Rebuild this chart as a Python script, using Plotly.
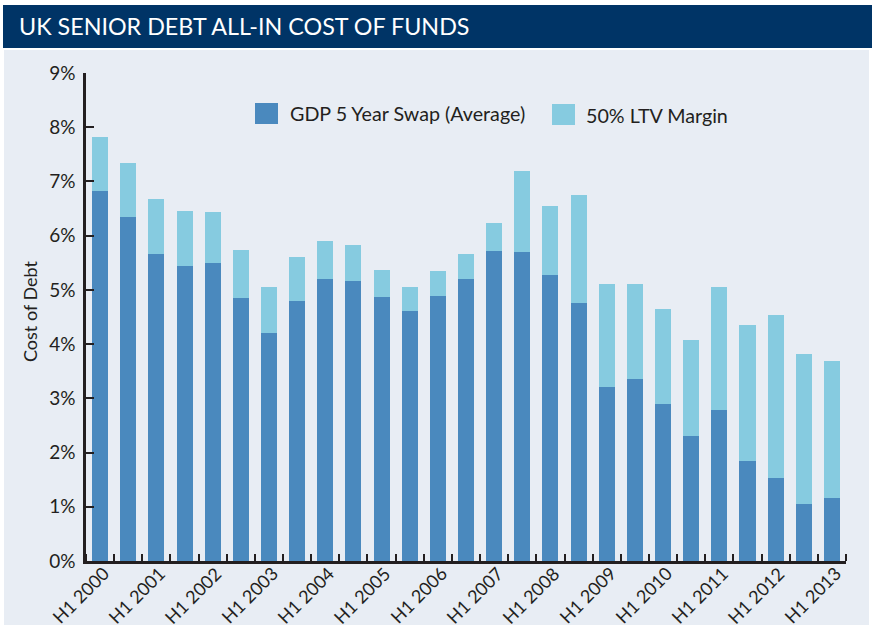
import plotly.graph_objects as go

# ---- data ----
periods = []
for yr in range(2000, 2013):
    periods += [f"H1 {yr}", f"H2 {yr}"]
periods += ["H1 2013"]

swap_avg = [6.82, 6.34, 5.66, 5.44, 5.50, 4.85, 4.21, 4.80, 5.20, 5.17,
            4.87, 4.61, 4.89, 5.20, 5.72, 5.70, 5.28, 4.76, 3.21, 3.36,
            2.90, 2.31, 2.79, 1.85, 1.54, 1.06, 1.17]
ltv_margin = [1.00, 1.00, 1.02, 1.02, 0.94, 0.89, 0.85, 0.81, 0.70, 0.66,
              0.50, 0.45, 0.46, 0.46, 0.51, 1.49, 1.27, 1.99, 1.90, 1.75,
              1.75, 1.77, 2.27, 2.51, 3.00, 2.76, 2.52]
y_ticks = list(range(0, 10))
y_tick_labels = [f"{v}%" for v in y_ticks]

series_names = ["GDP 5 Year Swap (Average)", "50% LTV Margin"]
title_text = "UK SENIOR DEBT ALL-IN COST OF FUNDS"
y_title = "Cost of Debt"

x_pos = list(range(len(periods)))
label_pos = [i for i, p in enumerate(periods) if p.startswith("H1")]
label_text = [periods[i] for i in label_pos]

# ---- style ----
W, H = 872, 629
L, R, T, B = 86, 26, 73, 68
DARK = "#4a89be"
LIGHT = "#86cbe0"
BG = "#e8edf4"
NAVY = "#003466"
INK = "#231f20"
FONT = "Lato"
X_RANGE = [-0.5, len(periods) - 0.5]

def px(x):
    return (x - L) / (W - L - R)

def py(y):
    return (H - B - y) / (H - T - B)

def x_to_paper(v):
    return (v - X_RANGE[0]) / (X_RANGE[1] - X_RANGE[0])

fig = go.Figure()
fig.add_trace(go.Bar(x=x_pos, y=swap_avg, name=series_names[0], hovertext=periods,
                     marker=dict(color=DARK, line=dict(width=0)), showlegend=False))
fig.add_trace(go.Bar(x=x_pos, y=ltv_margin, name=series_names[1], hovertext=periods,
                     marker=dict(color=LIGHT, line=dict(width=0)), showlegend=False))

shapes = [
    dict(type="rect", xref="paper", yref="paper", layer="below",
         x0=px(4), x1=px(869), y0=py(625), y1=py(50),
         fillcolor=BG, line=dict(width=0)),
    dict(type="rect", xref="paper", yref="paper", layer="below",
         x0=px(3), x1=px(873), y0=py(48), y1=py(5),
         fillcolor=NAVY, line=dict(width=0)),
    dict(type="rect", xref="paper", yref="paper",
         x0=px(255), x1=px(278), y0=py(124), y1=py(103),
         fillcolor=DARK, line=dict(width=0)),
    dict(type="rect", xref="paper", yref="paper",
         x0=px(552), x1=px(575), y0=py(125), y1=py(104),
         fillcolor=LIGHT, line=dict(width=0)),
]

annotations = [
    dict(text=series_names[0], xref="paper", yref="paper", x=px(288), y=py(114),
         xanchor="left", yanchor="middle", showarrow=False,
         font=dict(family=FONT, size=19.7, color=INK)),
    dict(text=series_names[1], xref="paper", yref="paper", x=px(584), y=py(115),
         xanchor="left", yanchor="middle", showarrow=False,
         font=dict(family=FONT, size=19.7, color=INK)),
    dict(text=y_title, xref="paper", yref="paper", x=px(30), y=py(311),
         xanchor="center", yanchor="middle", textangle=-90, showarrow=False,
         font=dict(family=FONT, size=18, color=INK)),
]
# rotated period labels under the x axis
for pos, txt in zip(label_pos, label_text):
    annotations.append(dict(
        text=txt, xref="paper", yref="paper", x=x_to_paper(pos), y=py(559),
        xanchor="right", yanchor="top", xshift=16, textangle=-45,
        showarrow=False, font=dict(family=FONT, size=18, color=INK)))

fig.update_layout(
    width=W, height=H,
    margin=dict(l=L, r=R, t=T, b=B, pad=0, autoexpand=False),
    paper_bgcolor="white",
    plot_bgcolor=BG,
    barmode="stack",
    bargap=0.43,
    font=dict(family=FONT, color=INK),
    title=dict(text=title_text, xref="container", yref="container",
               x=19 / W, y=1 - 27 / H, xanchor="left", yanchor="middle",
               pad=dict(l=0, r=0, t=0, b=0),
               font=dict(family=FONT, size=23.3, color="white")),
    shapes=shapes,
    annotations=annotations,
    xaxis=dict(
        range=X_RANGE,
        tickmode="array", tickvals=label_pos, ticktext=label_text,
        showticklabels=False, ticks="",
        minor=dict(tickmode="linear", tick0=-0.5, dtick=1, ticks="inside",
                   ticklen=7, tickwidth=2, tickcolor=INK, showgrid=False),
        showline=True, linecolor=INK, linewidth=2.5,
        showgrid=False, zeroline=False, automargin=False,
    ),
    yaxis=dict(
        range=[0, 9], tickmode="array", tickvals=y_ticks, ticktext=y_tick_labels,
        ticks="inside", ticklen=8, tickwidth=2, tickcolor=INK,
        ticklabelstandoff=4,
        tickfont=dict(family=FONT, size=19, color=INK),
        showline=True, linecolor=INK, linewidth=2.5,
        showgrid=False, zeroline=False, automargin=False,
    ),
)

fig.write_html("out.html", config={"displayModeBar": False},
               post_script="document.body.style.margin='0px';")
